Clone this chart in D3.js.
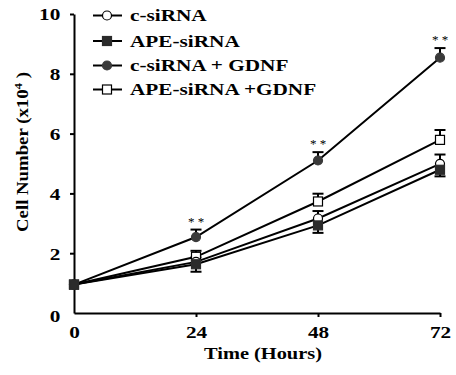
<!DOCTYPE html>
<html>
<head>
<meta charset="utf-8">
<script src="https://cdn.jsdelivr.net/npm/d3@7"></script>
<style>
  body { margin: 0; background: #fff; }
  svg text { font-family: "Liberation Serif", "Times New Roman", serif; font-weight: bold; fill: #000; }
</style>
</head>
<body>
<div id="chart"></div>
<script>
// data
const hours = [0, 24, 48, 72];
const seriesNames = ['c-siRNA', 'APE-siRNA', 'c-siRNA + GDNF', 'APE-siRNA +GDNF'];
const cSiRNA = [0.95, 1.71, 3.16, 4.99];
const cSiRNAErr = [0, 0.15, 0.25, 0.31];
const apeSiRNA = [0.95, 1.63, 2.93, 4.79];
const apeSiRNAErr = [0, 0.25, 0.25, 0.22];
const cGdnf = [0.95, 2.54, 5.10, 8.54];
const cGdnfErr = [0, 0.25, 0.28, 0.32];
const apeGdnf = [0.95, 1.88, 3.73, 5.79];
const apeGdnfErr = [0, 0.20, 0.26, 0.33];
const yTicks = [0, 2, 4, 6, 8, 10];
const xTicks = [0, 24, 48, 72];
const starHours = [24, 48, 72];

const series = [
  {name: seriesNames[0], values: cSiRNA, err: cSiRNAErr, dir: -1, marker: 'circle', fill: '#fff'},
  {name: seriesNames[1], values: apeSiRNA, err: apeSiRNAErr, dir: 1, marker: 'square', fill: '#2b2b2b'},
  {name: seriesNames[2], values: cGdnf, err: cGdnfErr, dir: -1, marker: 'circle', fill: '#3a3a3a'},
  {name: seriesNames[3], values: apeGdnf, err: apeGdnfErr, dir: -1, marker: 'square', fill: '#fff'}
];

const width = 456, height = 375;
const margin = {top: 14, right: 16, bottom: 62, left: 74};
const sx = 1.25; // the figure is stretched horizontally

const svg = d3.select('#chart').append('svg')
  .attr('width', width)
  .attr('height', height);

const x = d3.scaleLinear().domain([0, 72]).range([margin.left, width - margin.right]);
const y = d3.scaleLinear().domain([0, 10]).range([height - margin.bottom, margin.top]);

// axes
const xAxis = d3.axisBottom(x).tickValues(xTicks).tickSize(4).tickSizeOuter(0).tickPadding(6);
const yAxis = d3.axisLeft(y).tickValues(yTicks).tickSize(4).tickSizeOuter(0).tickPadding(8);

const xAxisG = svg.append('g')
  .attr('transform', `translate(0,${y(0)})`)
  .call(xAxis);
const yAxisG = svg.append('g')
  .attr('transform', `translate(${x(0)},0)`)
  .call(yAxis);

[xAxisG, yAxisG].forEach(g => {
  g.select('.domain').attr('stroke', '#000').attr('stroke-width', 2);
  g.selectAll('.tick line').attr('stroke', '#000').attr('stroke-width', 2);
  g.selectAll('.tick text')
    .style('font-family', '"Liberation Serif", serif')
    .style('font-weight', 'bold')
    .style('font-size', '17px')
    .attr('fill', '#000');
});
xAxisG.selectAll('.tick').filter(d => d === 0).select('line').remove();
yAxisG.selectAll('.tick').filter(d => d === 0).select('line').remove();
xAxisG.selectAll('.tick text').attr('transform', `scale(${sx},1)`).attr('dy', '0.9em');
yAxisG.selectAll('.tick text').attr('transform', `scale(${sx},1)`).attr('x', -11).attr('dy', '0.35em');
yAxisG.selectAll('.tick').filter(d => d === 0).select('text').attr('dy', '0.5em');

// axis titles
svg.append('text')
  .attr('transform', `translate(${x(36) + 6},${height - 16}) scale(${sx - 0.05},1)`)
  .attr('text-anchor', 'middle')
  .style('font-size', '17px')
  .text('Time (Hours)');

const yTitle = svg.append('text')
  .attr('text-anchor', 'middle')
  .style('font-size', '16px');
yTitle.append('tspan').text('Cell Number (x10');
yTitle.append('tspan').attr('dy', -6).style('font-size', '11px').text('4');
yTitle.append('tspan').attr('dy', 6).text(' )');
// stretch the title to the length it has in the figure
const titleLen = yTitle.node().getComputedTextLength() || 130;
yTitle.attr('transform', `translate(27.5,152) rotate(-90) scale(${160 / titleLen},1)`);

// lines
const line = d3.line()
  .x((d, i) => x(hours[i]))
  .y(d => y(d));

svg.selectAll('.series-line')
  .data(series)
  .join('path')
  .attr('class', 'series-line')
  .attr('d', d => line(d.values))
  .attr('fill', 'none')
  .attr('stroke', '#000')
  .attr('stroke-width', 2);

// error bars (one-sided)
const capW = 11;
series.forEach(s => {
  const pts = s.values.map((v, i) => ({h: hours[i], v: v, e: s.err[i]})).filter(p => p.e > 0);
  const g = svg.append('g');
  g.selectAll('line.stem')
    .data(pts)
    .join('line')
    .attr('x1', p => x(p.h)).attr('x2', p => x(p.h))
    .attr('y1', p => y(p.v))
    .attr('y2', p => y(p.v - s.dir * p.e))
    .attr('stroke', '#000').attr('stroke-width', 2);
  g.selectAll('line.cap')
    .data(pts)
    .join('line')
    .attr('x1', p => x(p.h) - capW / 2).attr('x2', p => x(p.h) + capW / 2)
    .attr('y1', p => y(p.v - s.dir * p.e))
    .attr('y2', p => y(p.v - s.dir * p.e))
    .attr('stroke', '#000').attr('stroke-width', 2);
});

// markers
function drawMarker(g, s, cx, cy) {
  if (s.marker === 'circle') {
    g.append('circle')
      .attr('cx', cx).attr('cy', cy).attr('r', 4.5)
      .attr('fill', s.fill)
      .attr('stroke', s.fill === '#fff' ? '#000' : s.fill)
      .attr('stroke-width', 1.2);
  } else {
    g.append('rect')
      .attr('x', cx - 4.5).attr('y', cy - 4.5)
      .attr('width', 9).attr('height', 9)
      .attr('fill', s.fill)
      .attr('stroke', s.fill === '#fff' ? '#000' : s.fill)
      .attr('stroke-width', 1.2);
  }
}

const markerOrder = [3, 0, 2, 1];
markerOrder.forEach(k => {
  const s = series[k];
  const g = svg.append('g');
  s.values.forEach((v, i) => drawMarker(g, s, x(hours[i]), y(v)));
});

// significance stars
svg.selectAll('.stars')
  .data(starHours)
  .join('text')
  .attr('class', 'stars')
  .attr('x', h => x(h))
  .attr('y', h => {
    const i = hours.indexOf(h);
    return y(cGdnf[i] + cGdnfErr[i]) - 4;
  })
  .attr('text-anchor', 'middle')
  .style('font-size', '13px')
  .style('font-weight', 'normal')
  .text('* *');

// legend
const legendRows = [15.5, 41, 65.5, 89.5];
const legend = svg.append('g');
series.forEach((s, i) => {
  const ly = legendRows[i];
  legend.append('line')
    .attr('x1', 93).attr('x2', 122)
    .attr('y1', ly).attr('y2', ly)
    .attr('stroke', '#000').attr('stroke-width', 2);
  drawMarker(legend, s, 107, ly);
  legend.append('text')
    .attr('transform', `translate(130,${ly}) scale(${sx},1)`)
    .attr('dy', '0.35em')
    .style('font-size', '17px')
    .text(s.name);
});
</script>
</body>
</html>
